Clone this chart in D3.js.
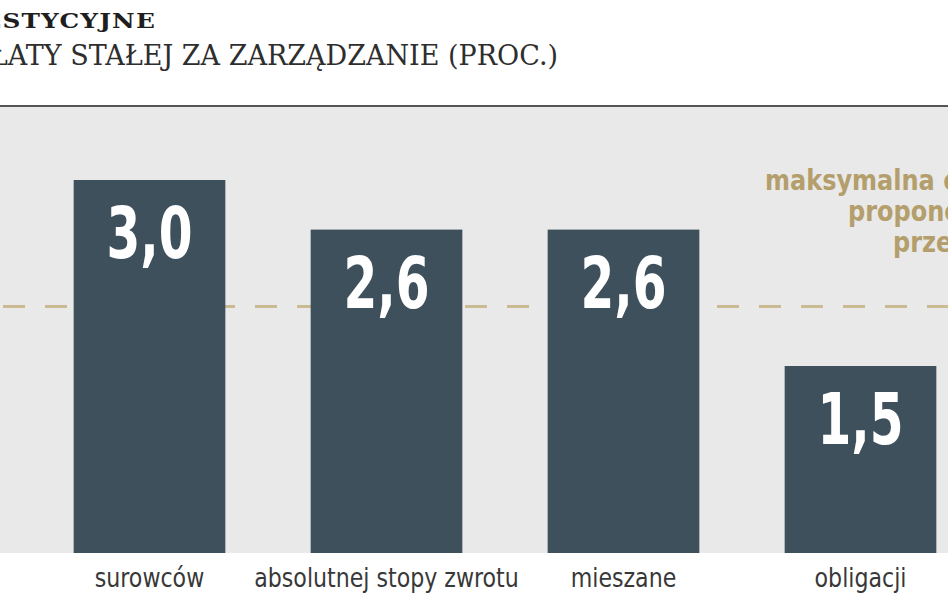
<!DOCTYPE html>
<html>
<head>
<meta charset="utf-8">
<script src="https://cdn.jsdelivr.net/npm/d3@7"></script>
<style>
  body { margin: 0; background: #fff; }
  svg { display: block; }
</style>
</head>
<body>
<svg id="chart"></svg>
<script>
// data
var categories = ["surowców", "absolutnej stopy zwrotu", "mieszane", "obligacji"];
var values = [3.0, 2.6, 2.6, 1.5];
var valueLabels = ["3,0", "2,6", "2,6", "1,5"];
var limit = 1.98;   // dashed line, proposed maximum fee
var titleLines = ["FUNDUSZE INWESTYCYJNE", "WYSOKOŚĆ OPŁATY STAŁEJ ZA ZARZĄDZANIE (PROC.)"];
var noteLines = ["maksymalna opłata", "proponowana", "przez KNF"];

var width = 948, height = 593;
var panelTop = 107, panelBottom = 553;

var svg = d3.select("#chart")
    .attr("width", width)
    .attr("height", height);

var x = d3.scaleBand()
    .domain(categories)
    .range([31, 979])
    .paddingInner(0.36)
    .paddingOuter(0.18);

var y = d3.scaleLinear()
    .domain([0, 3.6])
    .range([552, 552 - 3.6 * 124]);

// squeeze a text horizontally to a share of its natural width
function narrow(sel, k) {
    sel.each(function() {
        var w = this.getComputedTextLength();
        d3.select(this)
            .attr("textLength", w * k)
            .attr("lengthAdjust", "spacingAndGlyphs");
    });
}

// title (wide slab face, stretched a bit)
svg.append("text")
    .attr("transform", "translate(156,28) scale(1.18,1)")
    .attr("text-anchor", "end")
    .attr("font-family", "DejaVu Serif")
    .attr("font-weight", "bold")
    .attr("font-size", 21)
    .attr("letter-spacing", 1)
    .attr("fill", "#1e1e1e")
    .text(titleLines[0]);

svg.append("text")
    .attr("x", 558).attr("y", 65)
    .attr("text-anchor", "end")
    .attr("font-family", "DejaVu Serif")
    .attr("font-size", 27)
    .attr("fill", "#2e2e2e")
    .text(titleLines[1]);

// panel
svg.append("rect")
    .attr("x", 0).attr("y", panelTop)
    .attr("width", width).attr("height", panelBottom - panelTop)
    .attr("fill", "#e8e9e8");

svg.append("line")
    .attr("x1", 0).attr("x2", width)
    .attr("y1", 106).attr("y2", 106)
    .attr("stroke", "#555")
    .attr("stroke-width", 2);

// limit line
svg.append("line")
    .attr("x1", 0).attr("x2", width)
    .attr("y1", y(limit)).attr("y2", y(limit))
    .attr("stroke", "#cbbb92")
    .attr("stroke-width", 3)
    .attr("stroke-dasharray", "22,20")
    .attr("stroke-dashoffset", -3);

// note
svg.append("g")
    .selectAll("text")
    .data(noteLines)
    .enter()
    .append("text")
    .attr("x", (d, i) => [765, 848, 893][i])
    .attr("y", (d, i) => 190 + i * 31)
    .attr("font-family", "DejaVu Sans Condensed")
    .attr("font-weight", "bold")
    .attr("font-size", 29)
    .attr("fill", "#b39e6c")
    .text(d => d)
    .call(narrow, 0.92);

// bars
svg.append("g")
    .selectAll("rect")
    .data(values)
    .enter()
    .append("rect")
    .attr("x", (d, i) => x(categories[i]))
    .attr("y", d => y(d))
    .attr("width", x.bandwidth())
    .attr("height", d => y(0) - y(d) + 1)
    .attr("fill", "#3f505d");

svg.append("g")
    .selectAll("text")
    .data(values)
    .enter()
    .append("text")
    .attr("x", (d, i) => x(categories[i]) + x.bandwidth() / 2)
    .attr("y", d => y(d) + 78)
    .attr("text-anchor", "middle")
    .attr("font-family", "DejaVu Sans Condensed")
    .attr("font-weight", "bold")
    .attr("font-size", 72)
    .attr("fill", "#fff")
    .text((d, i) => valueLabels[i])
    .call(narrow, 0.75);

// category axis
var xAxis = d3.axisBottom(x).tickSize(0).tickPadding(0);
var ax = svg.append("g")
    .attr("transform", "translate(0,567)")
    .call(xAxis);
ax.select(".domain").remove();
ax.selectAll("text")
    .attr("dy", "0.75em")
    .attr("font-family", "DejaVu Sans Condensed")
    .attr("font-size", 27)
    .attr("fill", "#383838")
    .call(narrow, 0.91);
</script>
</body>
</html>
